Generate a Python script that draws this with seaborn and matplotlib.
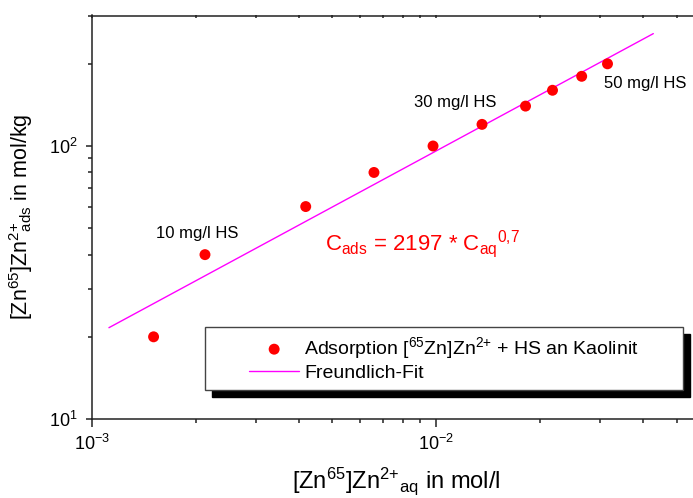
import matplotlib
matplotlib.use("Agg")
import matplotlib.pyplot as plt
import matplotlib.ticker as ticker
from matplotlib.patches import Rectangle
import numpy as np
import pandas as pd
import seaborn as sns

C_AQ = [0.00151, 0.00213, 0.00418, 0.0066, 0.0098, 0.0136, 0.0182, 0.0218, 0.0265, 0.0315]
C_ADS = [20, 40, 60, 80, 100, 120, 140, 160, 180, 200]

# Freundlich fit line, end points as drawn
FIT_AQ = [0.00112, 0.0428]
FIT_ADS = [21.6, 258]

HS_LABELS = ['10 mg/l HS', '30 mg/l HS', '50 mg/l HS']
HS_X = [0.00202, 0.01135, 0.0405]
HS_Y = [48, 144, 169]

sns.set_style('ticks')
plt.rcParams['font.family'] = ['Liberation Sans', 'DejaVu Sans']
plt.rcParams['mathtext.fontset'] = 'custom'
plt.rcParams['mathtext.rm'] = 'Liberation Sans'
plt.rcParams['mathtext.it'] = 'Liberation Sans:italic'
plt.rcParams['mathtext.bf'] = 'Liberation Sans:bold'
plt.rcParams['mathtext.default'] = 'regular'
for k in ['text.color', 'axes.labelcolor', 'xtick.color', 'ytick.color']:
    plt.rcParams[k] = 'black'

df = pd.DataFrame({'aq': C_AQ, 'ads': C_ADS})
fit = pd.DataFrame({'aq': FIT_AQ, 'ads': FIT_ADS})

fig = plt.figure(figsize=(6.93, 4.98), dpi=100)
ax = fig.add_axes([92/693, 79/498, 608/693, 403.5/498])

sns.lineplot(data=fit, x='aq', y='ads', color='#ff00ff', lw=1, ax=ax,
             label='Freundlich-Fit', zorder=2)
sns.scatterplot(data=df, x='aq', y='ads', color='#ff0000', s=62, edgecolor='none', ax=ax,
                label=r'Adsorption [$^{65}$Zn]Zn$^{2{+}}$ + HS an Kaolinit', zorder=3)

ax.set_xscale('log')
ax.set_yscale('log')
ax.set_xlim(1e-3, 0.0585)
ax.set_ylim(10, 300.6)
ax.xaxis.set_minor_formatter(ticker.NullFormatter())
ax.yaxis.set_minor_formatter(ticker.NullFormatter())

for s in ['left', 'bottom', 'top']:
    ax.spines[s].set_linewidth(1.1)
    ax.spines[s].set_color('#222222')
ax.spines['right'].set_visible(False)

ax.tick_params(axis='both', which='both', direction='out', labelsize=13, color='#222222')
ax.tick_params(axis='x', which='major', length=6, width=1.1, pad=5)
ax.tick_params(axis='x', which='minor', length=3, width=1.1)
ax.tick_params(axis='y', which='major', length=4.5, width=1.1, pad=6)
ax.tick_params(axis='y', which='minor', length=3, width=1.1)

sec = ax.secondary_xaxis('top')
sec.tick_params(which='both', direction='in', length=2, width=1.1, labeltop=False,
                color='#222222')
sec.xaxis.set_minor_formatter(ticker.NullFormatter())
sec.xaxis.set_major_formatter(ticker.NullFormatter())
sec.spines['top'].set_visible(False)

ax.set_xlabel(r'[Zn$^{65}$]Zn$^{2{+}}$$_{aq}$ in mol/l', fontsize=17, labelpad=8)
ax.set_ylabel(r'[Zn$^{65}$]Zn$^{2{+}}$$\!\!\!_{ads}$ in mol/kg', fontsize=15.5, labelpad=10)

for lab, x, y in zip(HS_LABELS, HS_X, HS_Y):
    ax.text(x, y, lab, fontsize=12, ha='center', va='center')

ax.text(0.004756, 41.6, r'C$_{ads}$ = 2197 * C$_{aq}$$^{0{,}7}$', color='#ff0000',
        fontsize=16, ha='left', va='baseline')

# legend box with hard black shadow
bx0, by0, bw, bh = 205/693, (498-390)/498, 478/693, 63/498
dx, dy = 7/693, 7/498
fig.add_artist(Rectangle((bx0+dx, by0-dy), bw, bh, transform=fig.transFigure,
                         facecolor='black', edgecolor='black', zorder=4))
fig.add_artist(Rectangle((bx0, by0), bw, bh, transform=fig.transFigure,
                         facecolor='white', edgecolor='#444444', lw=1, zorder=5))
handles, labels = ax.get_legend_handles_labels()
leg = ax.legend(handles=handles[::-1], labels=labels[::-1],
                loc='center', bbox_to_anchor=(bx0 + bw/2, by0 + bh/2),
                bbox_transform=fig.transFigure, frameon=False, fontsize=14,
                handlelength=2.57, handletextpad=0.26, labelspacing=0.15,
                borderpad=0.2)
leg.set_zorder(6)
leg.remove()
fig.add_artist(leg)

fig.savefig('out.png', dpi=100)
